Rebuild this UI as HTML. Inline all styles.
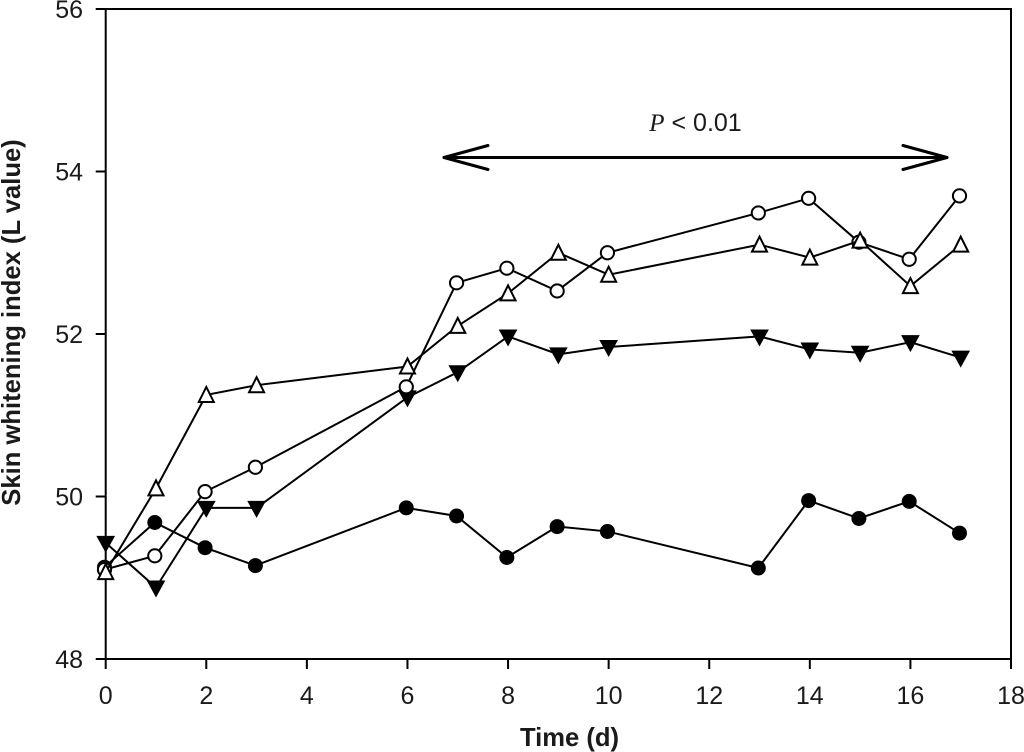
<!DOCTYPE html>
<html>
<head>
<meta charset="utf-8">
<style>
html,body{margin:0;padding:0;background:#fff;width:1024px;height:752px;overflow:hidden}
svg{display:block}
text{font-family:"Liberation Sans",sans-serif;fill:#1a1a1a}
</style>
</head>
<body>
<svg id="chart" width="1024" height="752" viewBox="0 0 1024 752" xmlns="http://www.w3.org/2000/svg">
<text x="695.5" y="131" font-size="25" text-anchor="middle"><tspan font-family="Liberation Serif" font-style="italic">P</tspan> &lt; 0.01</text>
<g fill="none" stroke="#000" stroke-width="3" stroke-linecap="round" stroke-linejoin="round">
<line x1="444" y1="157.5" x2="947" y2="157.5"/>
<polyline points="488,145.5 444,157.5 488,169.5"/>
<polyline points="903,145.5 947,157.5 903,169.5"/>
</g>
<text x="569.5" y="746" font-size="25.6" font-weight="bold" text-anchor="middle">Time (d)</text>
<text transform="translate(20,322.5) rotate(-90)" font-size="25.6" font-weight="bold" text-anchor="middle">Skin whitening index (L value)</text>
</svg>
<script>
const days = [0, 1, 2, 3, 6, 7, 8, 9, 10, 13, 14, 15, 16, 17];
const filledCircleValues = [49.13, 49.68, 49.37, 49.15, 49.86, 49.76, 49.25, 49.63, 49.57, 49.12, 49.95, 49.73, 49.94, 49.55];
const openCircleValues = [49.1, 49.27, 50.06, 50.36, 51.35, 52.63, 52.81, 52.53, 53.0, 53.49, 53.67, 53.13, 52.92, 53.7];
const filledTriangleValues = [49.43, 48.88, 49.86, 49.86, 51.22, 51.53, 51.97, 51.75, 51.84, 51.97, 51.81, 51.77, 51.9, 51.71];
const openTriangleValues = [49.07, 50.1, 51.25, 51.37, 51.6, 52.1, 52.5, 53.0, 52.73, 53.1, 52.94, 53.15, 52.59, 53.1];
const xTicks = [0, 2, 4, 6, 8, 10, 12, 14, 16, 18];
const yTicks = [48, 50, 52, 54, 56];

const svg = document.getElementById('chart');
const NS = 'http://www.w3.org/2000/svg';
const xScale = v => 105.7 + (v - 0) * (1011 - 105.7) / 18;
const yScale = v => 659 - (v - 48) * (659 - 9) / 8;

function make(tag, attrs) {
  const el = document.createElementNS(NS, tag);
  for (const k in attrs) el.setAttribute(k, attrs[k]);
  return el;
}

const frame = make('rect', {x: xScale(0), y: yScale(56), width: xScale(18) - xScale(0), height: yScale(48) - yScale(56), fill: 'none', stroke: '#000', 'stroke-width': 2});


svg.appendChild(frame);

xTicks.forEach(t => {
  const tick = make('line', {x1: xScale(t), x2: xScale(t), y1: yScale(48), y2: yScale(48) + 10, stroke: '#000', 'stroke-width': 2});
  
  
  svg.appendChild(tick);
  const label = make('text', {x: xScale(t), y: 704, 'font-size': 25, 'text-anchor': 'middle'});
  
  
  label.textContent = t;
  svg.appendChild(label);
});

yTicks.forEach(t => {
  const tick = make('line', {x1: xScale(0) - 10, x2: xScale(0), y1: yScale(t), y2: yScale(t), stroke: '#000', 'stroke-width': 2});
  
  
  svg.appendChild(tick);
  const label = make('text', {x: 83, y: yScale(t) + 9, 'font-size': 25, 'text-anchor': 'end'});
  
  
  label.textContent = t;
  svg.appendChild(label);
});

function drawMarker(group, kind, cx, cy) {
  let m;
  if (kind === 'filled-circle') {
    m = make('circle', {cx: cx, cy: cy, r: 7, fill: '#000', stroke: '#000', 'stroke-width': 1});
  } else if (kind === 'open-circle') {
    m = make('circle', {cx: cx, cy: cy, r: 6.6, fill: '#fff', stroke: '#000', 'stroke-width': 2});
  } else if (kind === 'filled-triangle') {
    m = make('polygon', {points: [[cx - 8.5, cy - 6.5], [cx + 8.5, cy - 6.5], [cx, cy + 9]].join(' '), fill: '#000', stroke: '#000', 'stroke-width': 1});
  } else {
    m = make('polygon', {points: [[cx - 7.5, cy + 7], [cx + 7.5, cy + 7], [cx, cy - 8]].join(' '), fill: '#fff', stroke: '#000', 'stroke-width': 2});
  }
  
  
  group.appendChild(m);
}

function drawSeries(name, kind, values, shift) {
  const g = make('g', {});
  
  
  const line = make('polyline', {points: values.map((v, i) => (xScale(days[i]) + shift) + ',' + yScale(v)).join(' '), fill: 'none', stroke: '#000', 'stroke-width': 2});
  
  
  g.appendChild(line);
  values.forEach((v, i) => drawMarker(g, kind, xScale(days[i]) + shift, yScale(v)));
  svg.appendChild(g);
}

drawSeries('series-filled-circle', 'filled-circle', filledCircleValues, -1.2);
drawSeries('series-filled-triangle', 'filled-triangle', filledTriangleValues, 0);
drawSeries('series-open-circle', 'open-circle', openCircleValues, -1.2);
drawSeries('series-open-triangle', 'open-triangle', openTriangleValues, 0);
</script>
</body>
</html>
